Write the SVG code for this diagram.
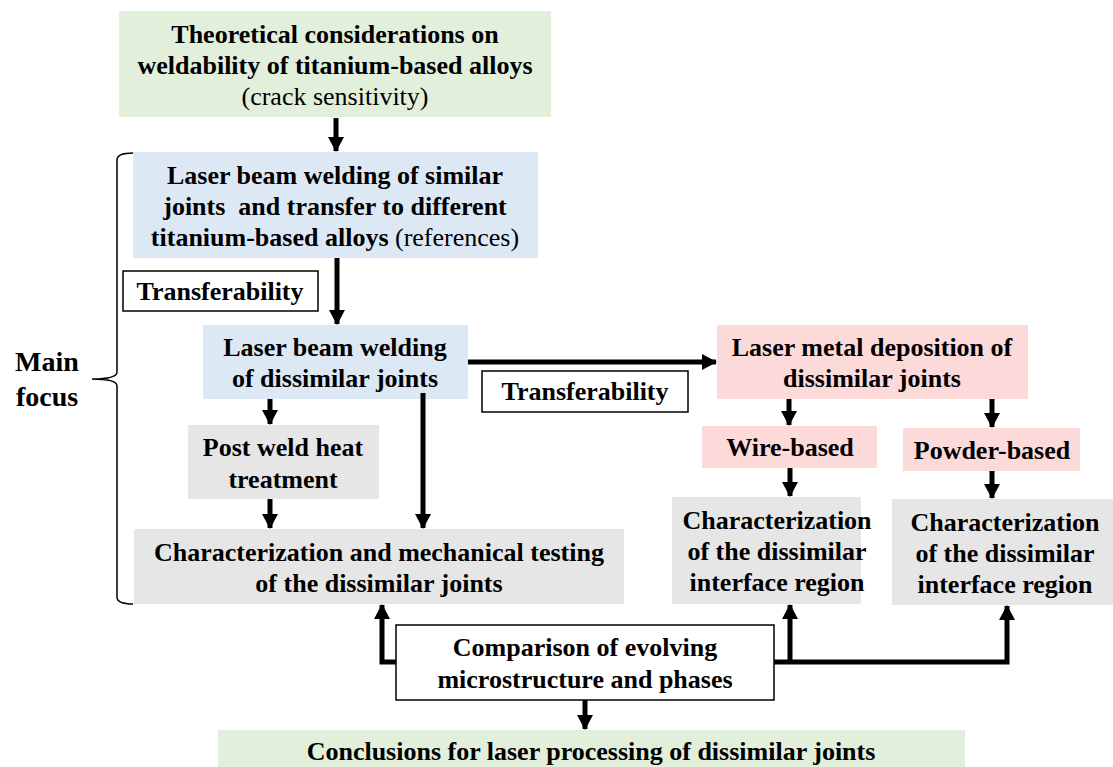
<svg xmlns="http://www.w3.org/2000/svg" width="1113" height="767" viewBox="0 0 1113 767">
<defs>
<marker id="ah" markerUnits="userSpaceOnUse" markerWidth="16" markerHeight="16" refX="14" refY="8" orient="auto">
<path d="M0,0 L15,8 L0,16 Z" fill="#000"/>
</marker>
<style>
text{font-family:"Liberation Serif","Times New Roman",serif;font-size:26px;font-weight:bold;fill:#000;text-anchor:middle}
.n{font-weight:normal}
.g{fill:#e2efda}
.b{fill:#dde8f5}
.p{fill:#fcdada}
.y{fill:#e6e6e6}
.w{fill:#fff;stroke:#000;stroke-width:1.5}
.c{fill:none;stroke:#000;stroke-width:5}
.br{fill:none;stroke:#000;stroke-width:1.5}
</style>
</defs>
<rect width="1113" height="767" fill="#fff"/>
<g id="theory">
<rect class="g" x="119" y="11" width="432" height="106"/>
<text x="335" y="43">Theoretical considerations on</text>
<text x="335" y="74">weldability of titanium-based alloys</text>
<text x="335" y="105" class="n">(crack sensitivity)</text>
</g>
<g id="lbw-similar">
<rect class="b" x="133" y="152" width="405" height="106"/>
<text x="335" y="184">Laser beam welding of similar</text>
<text x="335" y="215" xml:space="preserve">joints  and transfer to different</text>
<text x="335" y="246">titanium-based alloys <tspan class="n">(references)</tspan></text>
</g>
<g id="transfer1">
<rect class="w" x="123" y="271" width="195" height="40"/>
<text x="220" y="300">Transferability</text>
</g>
<g id="lbw-dissimilar">
<rect class="b" x="203" y="325" width="265" height="74"/>
<text x="335" y="356">Laser beam welding</text>
<text x="335" y="387">of dissimilar joints</text>
</g>
<g id="transfer2">
<rect class="w" x="482" y="371" width="206" height="41"/>
<text x="585" y="400">Transferability</text>
</g>
<g id="lmd">
<rect class="p" x="717" y="325" width="311" height="74"/>
<text x="872" y="356">Laser metal deposition of</text>
<text x="872" y="387">dissimilar joints</text>
</g>
<g id="pwht">
<rect class="y" x="188" y="425" width="191" height="74"/>
<text x="283" y="456">Post weld heat</text>
<text x="283" y="488">treatment</text>
</g>
<g id="wire">
<rect class="p" x="702" y="426" width="175" height="42"/>
<text x="790" y="456">Wire-based</text>
</g>
<g id="powder">
<rect class="p" x="903" y="428" width="177" height="43"/>
<text x="992" y="459">Powder-based</text>
</g>
<g id="char-joints">
<rect class="y" x="134" y="529" width="490" height="75"/>
<text x="379" y="561">Characterization and mechanical testing</text>
<text x="379" y="592">of the dissimilar joints</text>
</g>
<g id="char-wire">
<rect class="y" x="672" y="497" width="189" height="107"/>
<text x="777" y="529">Characterization</text>
<text x="777" y="560">of the dissimilar</text>
<text x="777" y="591">interface region</text>
</g>
<g id="char-powder">
<rect class="y" x="892" y="499" width="221" height="106"/>
<text x="1005" y="531">Characterization</text>
<text x="1005" y="562">of the dissimilar</text>
<text x="1005" y="593">interface region</text>
</g>
<g id="comparison">
<rect class="w" x="396" y="625" width="378" height="75"/>
<text x="585" y="656">Comparison of evolving</text>
<text x="585" y="688">microstructure and phases</text>
</g>
<g id="conclusions">
<rect class="g" x="218" y="730" width="747" height="40"/>
<text x="591" y="760">Conclusions for laser processing of dissimilar joints</text>
</g>
<g id="main-focus">
<path class="br" d="M133,153 Q117,153 117,160 L117,372 Q117,379 92,379 Q117,379 117,386 L117,597 Q117,604 133,604"/>
<text x="47" y="371" style="font-size:28px">Main</text>
<text x="47" y="406" style="font-size:28px">focus</text>
</g>
<g id="connectors">
<path class="c" d="M336,118 V151" marker-end="url(#ah)"/>
<path class="c" d="M337,258 V324" marker-end="url(#ah)"/>
<path class="c" d="M468,362 H716" marker-end="url(#ah)"/>
<path class="c" d="M270,399 V424" marker-end="url(#ah)"/>
<path class="c" d="M423,393 V528" marker-end="url(#ah)"/>
<path class="c" d="M270,499 V528" marker-end="url(#ah)"/>
<path class="c" d="M789,399 V425" marker-end="url(#ah)"/>
<path class="c" d="M992,399 V427" marker-end="url(#ah)"/>
<path class="c" d="M790,468 V496" marker-end="url(#ah)"/>
<path class="c" d="M992,471 V498" marker-end="url(#ah)"/>
<path class="c" d="M396,662 H382 V605" marker-end="url(#ah)"/>
<path class="c" d="M774,662 H1007 V606" marker-end="url(#ah)"/>
<path class="c" d="M790,662 V605" marker-end="url(#ah)"/>
<path class="c" d="M585,700 V729" marker-end="url(#ah)"/>
</g>
</svg>
